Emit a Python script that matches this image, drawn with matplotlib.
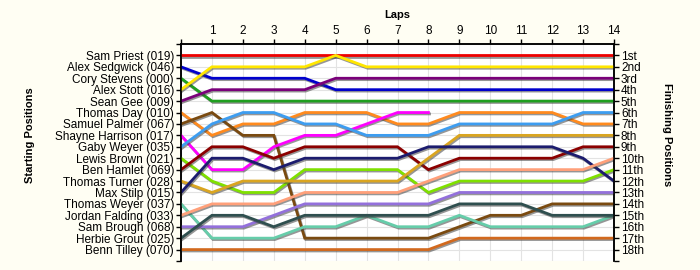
import numpy as np
import matplotlib
matplotlib.use("Agg")
import matplotlib.pyplot as plt
import matplotlib.patheffects as pe

laps = list(range(15))
drivers = [
    "Sam Priest (019)", "Alex Sedgwick (046)", "Cory Stevens (000)", "Alex Stott (016)",
    "Sean Gee (009)", "Thomas Day (010)", "Samuel Palmer (067)", "Shayne Harrison (017)",
    "Gaby Weyer (035)", "Lewis Brown (021)", "Ben Hamlet (069)", "Thomas Turner (028)",
    "Max Stilp (015)", "Thomas Weyer (037)", "Jordan Falding (033)", "Sam Brough (068)",
    "Herbie Grout (025)", "Benn Tilley (070)",
]
finish_labels = ["1st", "2nd", "3rd"] + [f"{i}th" for i in range(4, 19)]

nan = np.nan
# position of each driver after each lap (lap 0 = grid position)
lap_positions = [
    [1, 1, 1, 1, 1, 1, 1, 1, 1, 1, 1, 1, 1, 1, 1],
    [2, 3, 3, 3, 3, 4, 4, 4, 4, 4, 4, 4, 4, 4, 4],
    [3, 5, 5, 5, 5, 5, 5, 5, 5, 5, 5, 5, 5, 5, 5],
    [4, 2, 2, 2, 2, 1, 2, 2, 2, 2, 2, 2, 2, 2, 2],
    [5, 4, 4, 4, 4, 3, 3, 3, 3, 3, 3, 3, 3, 3, 3],
    [6, 8, 7, 7, 6, 6, 6, 7, 7, 6, 6, 6, 6, 7, 7],
    [7, 6, 8, 8, 17, 17, 17, 17, 17, 16, 15, 15, 14, 14, 14],
    [8, 11, 11, 9, 8, 8, 7, 6, 6, nan, nan, nan, nan, nan, nan],
    [9, 7, 6, 6, 7, 7, 8, 8, 8, 7, 7, 7, 7, 6, 6],
    [10, 12, 13, 13, 11, 11, 11, 11, 13, 12, 12, 12, 12, 12, 11],
    [11, 9, 9, 10, 9, 9, 9, 9, 11, 10, 10, 10, 10, 9, 9],
    [12, 13, 12, 12, 12, 12, 12, 12, 10, 8, 8, 8, 8, 8, 8],
    [13, 10, 10, 11, 10, 10, 10, 10, 9, 9, 9, 9, 9, 10, 12],
    [14, 17, 17, 17, 16, 16, 15, 16, 16, 15, 16, 16, 16, 16, 15],
    [15, 14, 14, 14, 13, 13, 13, 13, 12, 11, 11, 11, 11, 11, 10],
    [16, 16, 16, 15, 14, 14, 14, 14, 14, 13, 13, 13, 13, 13, 13],
    [17, 15, 15, 16, 15, 15, 15, 15, 15, 14, 14, 14, 15, 15, 15],
    [18, 18, 18, 18, 18, 18, 18, 18, 18, 17, 17, 17, 17, 17, 17],
]

colors = [
    "#ee0000", "#0000cc", "#1f9e1f", "#ffe600", "#7a007a", "#ff8a1e",
    "#7a4a10", "#ff00ff", "#3d9df0", "#7fe000", "#8b0000", "#daa520",
    "#1c1c6e", "#66cdaa", "#ffa07a", "#9370db", "#2f4f4f", "#d2691e",
]

plt.rcParams["font.family"] = ["Liberation Sans", "DejaVu Sans"]

fig = plt.figure(figsize=(7, 2.7), dpi=100)
fig.patch.set_facecolor("#fffef3")
ax = fig.add_axes([181 / 700, 1 - 261 / 270, (614 - 181) / 700, (261 - 44) / 270])
ax.set_facecolor("white")

shadow = [pe.SimpleLineShadow(offset=(0.8, -1.0), shadow_color="0.25", alpha=0.55),
          pe.Normal()]
for pos, c in zip(lap_positions, colors):
    ax.plot(laps, pos, color=c, lw=2.0, solid_joinstyle="miter",
            path_effects=shadow, zorder=3)

ax.set_xlim(0, 14)
ax.set_ylim(19, 0)

ax.xaxis.tick_top()
ax.set_xticks(laps)
ax.set_xticklabels([""] + [str(i) for i in laps[1:]])
ax.set_yticks(range(20))
ax.set_yticklabels([""] + drivers + [""])

ax2 = ax.twinx()
ax2.set_ylim(19, 0)
ax2.set_yticks(range(20))
ax2.set_yticklabels([""] + finish_labels + [""])

for a in (ax, ax2):
    a.tick_params(axis="both", length=3.5, width=1, pad=1.5, labelsize=8.5,
                  colors="black")
    a.spines["bottom"].set_visible(False)
    for s in ("top", "left", "right"):
        a.spines[s].set_linewidth(1.1)

ax.grid(True, color="#e3e3e3", lw=0.8, zorder=0)
ax.set_axisbelow(True)

fig.text(397 / 700, 1 - 15 / 270, "Laps", ha="center", va="center",
         fontsize=8, fontweight="bold")
fig.text(30 / 700, 0.5, "Starting Positions", ha="center", va="center",
         rotation=90, fontsize=8, fontweight="bold")
fig.text(667 / 700, 0.5, "Finishing Positions", ha="center", va="center",
         rotation=270, fontsize=8, fontweight="bold")

fig.savefig("out.png", dpi=100, facecolor=fig.get_facecolor())
